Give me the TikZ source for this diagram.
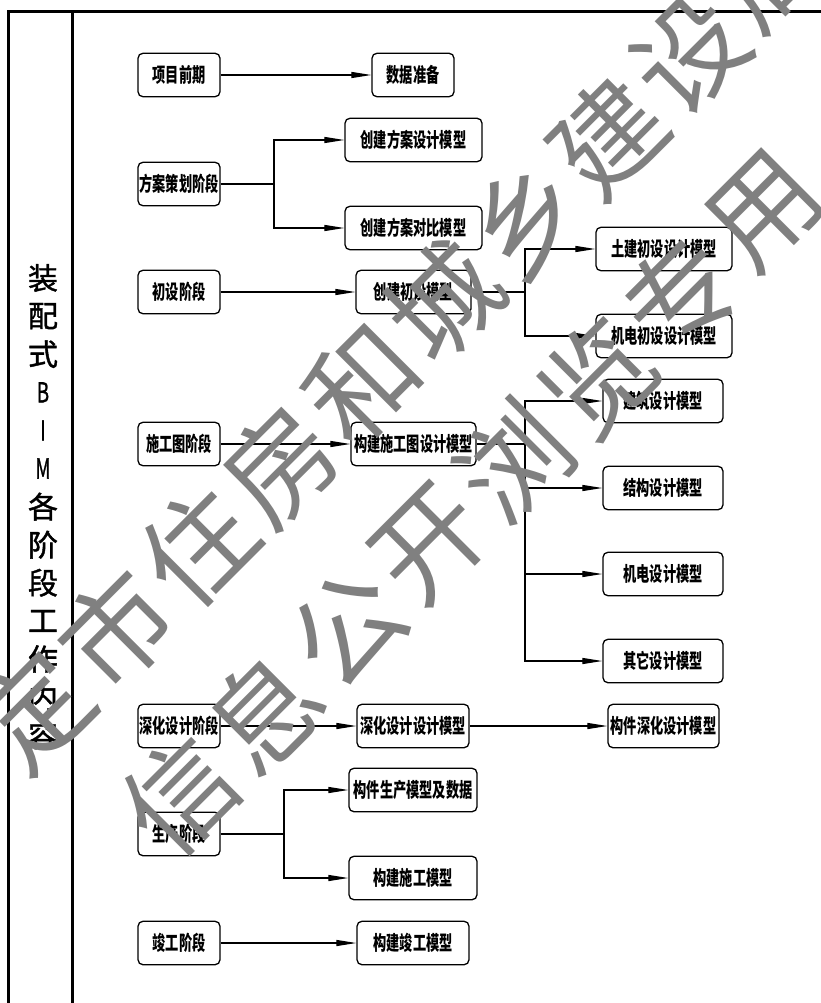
\documentclass[tikz,border=0pt]{standalone}
\usepackage{fontspec}
\usepackage{graphicx}
\newfontfamily\cjk{Noto Sans CJK SC}
\newfontfamily\cjkm{Noto Sans CJK SC}[FakeBold=1.3]
\usetikzlibrary{arrows.meta}
\definecolor{wm}{RGB}{128,128,128}
\newcommand{\bt}[1]{\scalebox{0.66}[1]{#1}}
\newcommand{\nl}[1]{\scalebox{0.62}[0.92]{#1}}
\begin{document}
\begin{tikzpicture}[x=1pt,y=-1pt,
  box/.style={draw, line width=1.3pt, rounded corners=5pt, minimum height=43.5pt, inner sep=0pt, font=\cjk\bfseries\fontsize{20}{20}\selectfont},
  frameline/.style={line width=3pt},
  conn/.style={line width=1.2pt},
  arr/.style={conn, -{Triangle[length=20pt,width=6pt]}},
  side/.style={font=\cjkm\fontsize{30}{30}\selectfont, inner sep=0pt},
  wmk/.style={font=\cjk\fontsize{110}{110}\selectfont, text=wm, rotate=45, inner sep=0pt}
]
\useasboundingbox (0,0) rectangle (821,1003);
\clip (0,0) rectangle (821,1003);
% frame
\draw[frameline] (8,1012) -- (8,12) -- (830,12);
\draw[frameline] (72,12) -- (72,1012);
% side title
\foreach \ch [count=\i from 0] in {装,配,式,\nl{B},\nl{I},\nl{M},各,阶,段,工,作,内,容}
  \node[side] (s\i) at (43,{278+38.1*\i}) {\ch};
% boxes
\node[box, minimum width=82pt] (p1) at (179,75) {\bt{项目前期}};
\node[box, minimum width=82pt] (q1) at (413,75) {\bt{数据准备}};
\node[box, minimum width=82pt] (p2) at (179,184) {\bt{方案策划阶段}};
\node[box, minimum width=137pt] (q2a) at (413.5,140) {\bt{创建方案设计模型}};
\node[box, minimum width=137pt] (q2b) at (413.5,228) {\bt{创建方案对比模型}};
\node[box, minimum width=82pt] (p3) at (179,292) {\bt{初设阶段}};
\node[box, minimum width=115pt] (q3) at (413.5,292) {\bt{创建初设模型}};
\node[box, minimum width=136pt] (r3a) at (664,249) {\bt{土建初设设计模型}};
\node[box, minimum width=136pt] (r3b) at (664,336) {\bt{机电初设设计模型}};
\node[box, minimum width=82pt] (p4) at (179,444) {\bt{施工图阶段}};
\node[box, minimum width=125pt] (q4) at (413.5,444) {\bt{构建施工图设计模型}};
\node[box, minimum width=120pt] (r4a) at (663,401) {\bt{建筑设计模型}};
\node[box, minimum width=120pt] (r4b) at (663,488) {\bt{结构设计模型}};
\node[box, minimum width=120pt] (r4c) at (663,574) {\bt{机电设计模型}};
\node[box, minimum width=120pt] (r4d) at (663,661) {\bt{其它设计模型}};
\node[box, minimum width=82pt] (p5) at (179,726) {\bt{深化设计阶段}};
\node[box, minimum width=112pt] (q5) at (413,726) {\bt{深化设计设计模型}};
\node[box, minimum width=111pt] (r5) at (663.5,726) {\bt{构件深化设计模型}};
\node[box, minimum width=82pt] (p6) at (179,834) {\bt{生产阶段}};
\node[box, minimum width=128pt] (q6a) at (413,790) {\bt{构件生产模型及数据}};
\node[box, minimum width=128pt] (q6b) at (413,878) {\bt{构建施工模型}};
\node[box, minimum width=82pt] (p7) at (179,943) {\bt{竣工阶段}};
\node[box, minimum width=112pt] (q7) at (413,943) {\bt{构建竣工模型}};
% junctions
\coordinate (j2) at (274,184);
\coordinate (j3) at (525,292);
\coordinate (j4) at (525,444);
\coordinate (j6) at (284,834);
% connectors
\draw[arr] (p1.east) -- (q1.west);
\draw[conn] (p2.east) -- (j2);
\draw[arr] (j2) |- (q2a.west);
\draw[arr] (j2) |- (q2b.west);
\draw[arr] (p3.east) -- (q3.west);
\draw[conn] (q3.east) -- (j3);
\draw[arr] (j3) |- (r3a.west);
\draw[arr] (j3) |- (r3b.west);
\draw[arr] (p4.east) -- (q4.west);
\draw[conn] (q4.east) -- (j4);
\draw[arr] (j4) |- (r4a.west);
\draw[arr] (j4) |- (r4b.west);
\draw[arr] (j4) |- (r4c.west);
\draw[arr] (j4) |- (r4d.west);
\draw[arr] (p5.east) -- (q5.west);
\draw[arr] (q5.east) -- (r5.west);
\draw[conn] (p6.east) -- (j6);
\draw[arr] (j6) |- (q6a.west);
\draw[arr] (j6) |- (q6b.west);
\draw[arr] (p7.east) -- (q7.west);
% watermark
\foreach \ch [count=\i from -1] in {定,市,住,房,和,城,乡,建,设,局} {
  \pgfmathsetmacro\tt{-363+116*\i}
  \node[wmk] (wa\i) at ({(\tt+527)/1.41421},{(527-\tt)/1.41421}) {\ch};
}
\foreach \ch [count=\i from 0] in {信,息,公,开,浏,览,专,用} {
  \pgfmathsetmacro\tt{-435+118*\i}
  \node[wmk] (wb\i) at ({(\tt+690)/1.41421},{(690-\tt)/1.41421}) {\ch};
}
\end{tikzpicture}
\end{document}
